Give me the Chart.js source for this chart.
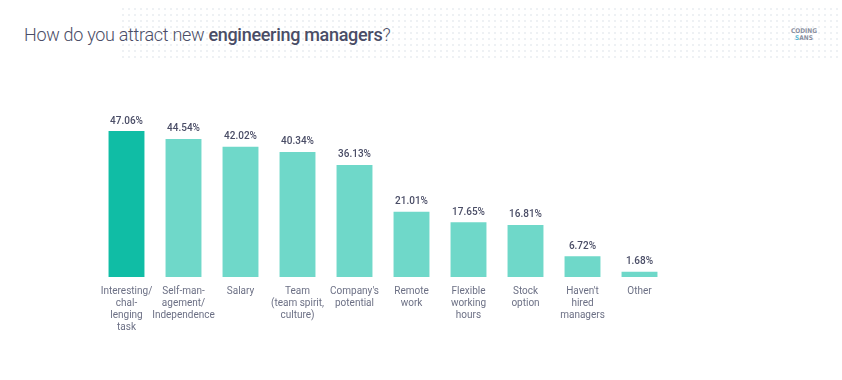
<!DOCTYPE html>
<html>
<head>
<meta charset="utf-8">
<script src="https://cdn.jsdelivr.net/npm/chart.js@4"></script>
<style>
  html, body { margin: 0; padding: 0; background: #fff; }
  #wrap { position: relative; width: 842px; height: 380px; overflow: hidden; }
  #dots {
    position: absolute; left: 120px; top: 6px; width: 722px; height: 54px;
    background-image: radial-gradient(#eef1f4 0.8px, transparent 0.9px);
    background-size: 6px 6px;
  }
  h1 {
    position: absolute; left: 24px; top: 24px; margin: 0;
    font-family: Roboto, sans-serif; font-weight: 300; font-size: 18px;
    color: #4a4d66; letter-spacing: -0.3px;
  }
  h1 b { font-weight: 500; }
  #logo {
    position: absolute; left: 789px; top: 28px; width: 30px;
    font-family: "DejaVu Sans Condensed", sans-serif; font-weight: bold;
    font-size: 6.5px; line-height: 7px; color: #8a8fa0; text-align: center;
  }
  #logo span { color: #5ab8d6; }
  canvas { position: absolute; left: 0; top: 0; }
</style>
</head>
<body>
<div id="wrap">
  <div id="dots"></div>
  <h1>How do you attract new <b>engineering managers</b>?</h1>
  <div id="logo">CODING<br><span>S</span>ANS</div>
  <canvas id="chart" width="842" height="380"></canvas>
</div>
<script>
const categories = [
  ["Interesting/", "chal-", "lenging", "task"],
  ["Self-man-", "agement/", "Independence"],
  ["Salary"],
  ["Team", "(team spirit,", "culture)"],
  ["Company's", "potential"],
  ["Remote", "work"],
  ["Flexible", "working", "hours"],
  ["Stock", "option"],
  ["Haven't", "hired", "managers"],
  ["Other"],
];
const values = [47.06, 44.54, 42.02, 40.34, 36.13, 21.01, 17.65, 16.81, 6.72, 1.68];
const barColors = ["#10bda5", "#6fd8c9", "#6fd8c9", "#6fd8c9", "#6fd8c9", "#6fd8c9", "#6fd8c9", "#6fd8c9", "#6fd8c9", "#6fd8c9"];

// value labels above the bars
const valueLabels = {
  id: "valueLabels",
  afterDatasetsDraw(chart) {
    const ctx = chart.ctx;
    const meta = chart.getDatasetMeta(0);
    ctx.save();
    ctx.font = "500 10px Roboto, sans-serif";
    ctx.fillStyle = "#4a4d66";
    ctx.textAlign = "center";
    ctx.textBaseline = "bottom";
    meta.data.forEach((bar, i) => {
      ctx.fillText(values[i].toFixed(2) + "%", bar.x, bar.y - 5);
    });
    ctx.restore();
  },
};

const chart = document.querySelector("#chart").getContext("2d");

new Chart(chart, {
  type: "bar",
  data: {
    labels: categories,
    datasets: [
      {
        data: values,
        backgroundColor: barColors,
        barPercentage: 0.63,
        categoryPercentage: 1,
      },
    ],
  },
  options: {
    responsive: false,
    animation: false,
    layout: { padding: { left: 98, right: 174, top: 122, bottom: 0 } },
    plugins: { legend: { display: false }, tooltip: { enabled: false } },
    scales: {
      x: {
        grid: { display: false, drawTicks: false },
        border: { display: false },
        ticks: {
          padding: 8,
          maxRotation: 0,
          autoSkip: false,
          color: "#6c7085",
          font: { family: "Roboto, sans-serif", size: 10, lineHeight: 1.2 },
        },
        afterFit(scale) {
          scale.height = 103;
        },
      },
      y: {
        display: false,
        min: 0,
        max: 50,
      },
    },
  },
  plugins: [valueLabels],
});
</script>
</body>
</html>
